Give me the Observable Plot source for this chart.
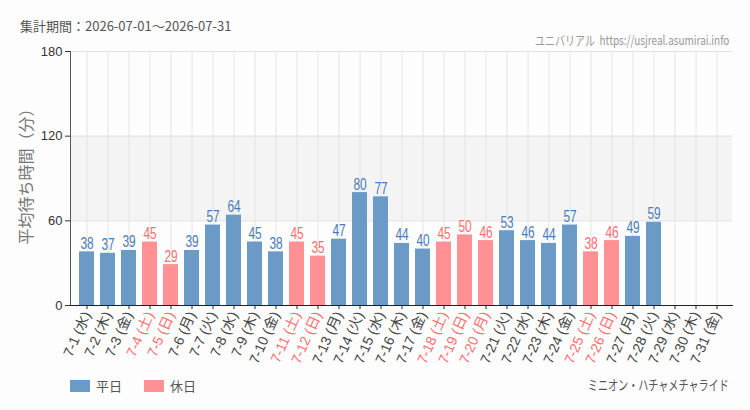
<!DOCTYPE html>
<html>
<head>
<meta charset="utf-8">
<script src="https://cdn.jsdelivr.net/npm/d3@7"></script>
<script src="https://cdn.jsdelivr.net/npm/@observablehq/plot@0.6"></script>
<style>
  body { margin: 0; background: #fcfdfc; }
  #wrap { position: relative; width: 750px; height: 410px; overflow: hidden; font-family: "Noto Sans CJK JP", "Noto Sans", sans-serif; }
  #wrap svg { position: absolute; left: 0; top: 0; }
  .narrow { transform-origin: right center; white-space: nowrap; }
  #period { position: absolute; left: 20px; top: 16px; font-size: 13px; color: #555; }
  #site { position: absolute; right: 21px; top: 30px; font-size: 13px; color: #999; transform: scaleX(0.77); }
  #legend { position: absolute; left: 70px; top: 376px; font-size: 13px; color: #555; display: flex; align-items: center; }
  #legend .sw { display: inline-block; width: 20px; height: 12px; margin-right: 6px; }
  #legend .item { display: flex; align-items: center; margin-right: 22px; }
  #ride { position: absolute; right: 21px; top: 374px; font-size: 14px; color: #555; transform: scaleX(0.72); }
</style>
</head>
<body>
<div id="wrap">
  <div id="period">集計期間：2026-07-01～2026-07-31</div>
  <div id="site" class="narrow">ユニバリアル&nbsp;&nbsp;https://usjreal.asumirai.info</div>
  <div id="legend"></div>
  <div id="ride" class="narrow">ミニオン・ハチャメチャライド</div>
</div>
<script>
// Daily average wait times for July 2026
const days = ["7-1","7-2","7-3","7-4","7-5","7-6","7-7","7-8","7-9","7-10",
  "7-11","7-12","7-13","7-14","7-15","7-16","7-17","7-18","7-19","7-20",
  "7-21","7-22","7-23","7-24","7-25","7-26","7-27","7-28","7-29","7-30","7-31"];
const weekdays = ["水","木","金","土","日","月","火","水","木","金",
  "土","日","月","火","水","木","金","土","日","月",
  "火","水","木","金","土","日","月","火","水","木","金"];
const waits = [38,37,39,45,29,39,57,64,45,38,
  45,35,47,80,77,44,40,45,50,46,
  53,46,44,57,38,46,49,59,null,null,null];
const holidays = ["7-4","7-5","7-11","7-12","7-18","7-19","7-20","7-25","7-26"];
const yTicks = [0, 60, 120, 180];
const legendNames = ["平日", "休日"];

const blue = "#6b9ac6", pink = "#ff9194";
const blueText = "#4a7cb5", pinkText = "#ff6e70";

const labels = days.map((d, i) => `${d} (${weekdays[i]})`);
const isHoliday = new Set(holidays.map(d => `${d} (${weekdays[days.indexOf(d)]})`));
const data = labels.map((label, i) => ({label, wait: waits[i], holiday: isHoliday.has(label)}))
  .filter(d => d.wait != null);

const chart = Plot.plot({
  width: 750,
  height: 410,
  marginTop: 51,
  marginBottom: 105,
  marginLeft: 70,
  marginRight: 18,
  style: {background: "transparent", fontFamily: "'Liberation Sans', 'Noto Sans CJK JP', sans-serif"},
  x: {domain: labels, padding: 0.3, label: null},
  y: {domain: [0, 180], label: null},
  color: {type: "identity"},
  marks: [
    Plot.rect([{lo: 60, hi: 120}], {y1: "lo", y2: "hi", fill: "#f3f4f3"}),
    Plot.ruleX(labels, {x: d => d, stroke: "#e4e4e4"}),
    Plot.ruleY(yTicks.slice(1), {stroke: "#e2e2e2"}),
    Plot.barY(data, {x: "label", y: "wait", fill: d => d.holiday ? pink : blue}),
    Plot.text(data, {
      x: "label", y: "wait", text: d => String(d.wait), dy: -3, lineAnchor: "bottom",
      fill: d => d.holiday ? pinkText : blueText, fontSize: 16.5,
      fontFamily: "'Liberation Sans', sans-serif", className: "vals"
    }),
    Plot.axisY({ticks: yTicks, tickSize: 5, tickPadding: 3, fontSize: 13, color: "#333", label: null}),
    Plot.axisX({
      tickRotate: -66, tickSize: 4, tickPadding: 3, fontSize: 14, label: null,
      stroke: "#222", fill: d => isHoliday.has(d) ? pinkText : "#444",
      fontFamily: "'Liberation Sans', 'Noto Sans CJK JP', sans-serif"
    }),
    Plot.frame({anchor: "left", stroke: "#555"}),
    Plot.frame({anchor: "bottom", stroke: "#222"}),
    Plot.text(["平均待ち時間（分）"], {
      frameAnchor: "left", textAnchor: "middle", dx: -44, dy: -6, rotate: -90,
      fontSize: 16, fill: "#777", fontFamily: "'Noto Sans CJK JP', sans-serif"
    })
  ]
});

// Narrow the value labels horizontally for a condensed look
d3.select(chart).selectAll("g.vals text, g[class*='vals'] text").each(function() {
  const el = d3.select(this);
  let t = el.attr("transform") || "";
  const x = el.attr("x"), y = el.attr("y");
  if (x != null || y != null) {
    t = `translate(${+x || 0},${+y || 0}) ` + t;
    el.attr("x", null).attr("y", null);
  }
  el.attr("transform", `${t} scale(0.72,1)`);
});

document.getElementById("wrap").prepend(chart);

// Legend below the chart
const legend = document.getElementById("legend");
legendNames.forEach((name, i) => {
  const item = document.createElement("span");
  item.className = "item";
  item.innerHTML = `<span class="sw" style="background:${i ? pink : blue}"></span>${name}`;
  legend.appendChild(item);
});
</script>
</body>
</html>
